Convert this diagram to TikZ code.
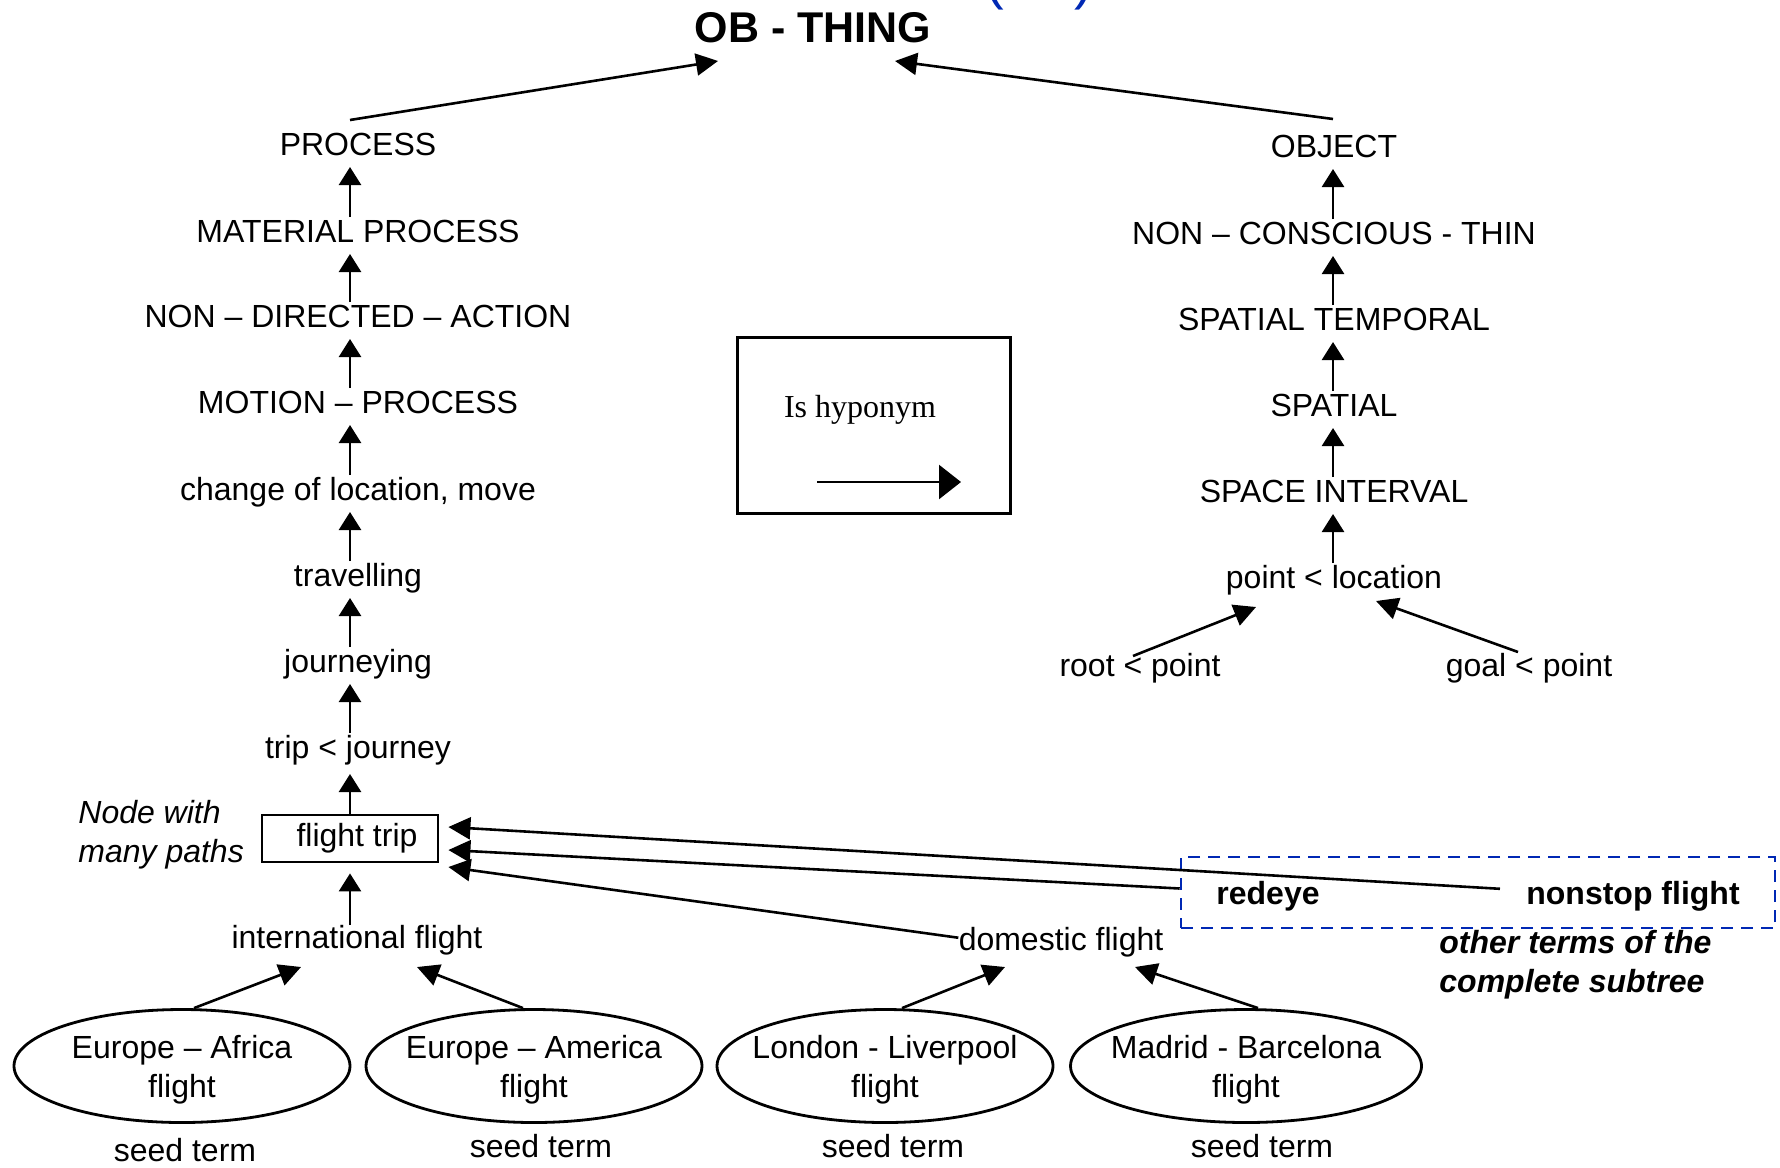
\documentclass[tikz,border=0pt]{standalone}
\usepackage{fontspec}
\setmainfont{Liberation Sans}
\newfontfamily\serifface{Liberation Serif}
\usetikzlibrary{arrows.meta,calc,shapes.geometric}
\definecolor{markblue}{RGB}{0,40,180}
\newcommand{\seedstrut}{\rule{0pt}{15.7pt}}
\begin{document}
\begin{tikzpicture}[x=0.5pt,y=-0.5pt,
  lbl/.style={inner sep=0pt, anchor=base, font=\fontsize{16}{19.5}\selectfont},
  hyp/.style={line width=1.3pt, -{Triangle[length=9pt,width=11pt]}},
  bighyp/.style={line width=1.3pt, -{Triangle[length=11pt,width=11pt]}},
  seed/.style={ellipse, draw, line width=1.4pt, inner xsep=-30pt, inner ysep=0pt,
    minimum width=168pt, minimum height=56.5pt, align=center,
    font=\fontsize{16}{19.5}\selectfont},
]
\useasboundingbox (0,0) rectangle (1780,1167);

% columns of the two hierarchies
\coordinate (colL) at (350,0);
\coordinate (colR) at (1333,0);

% root of the ontology
\node[inner sep=0pt, anchor=base, font=\fontsize{21.5}{26}\selectfont\bfseries] (ob) at (813,42) {OB - THING};
\node[inner sep=0pt, anchor=base west, text=markblue, font=\fontsize{28}{30}\selectfont] (tag) at (985,-2) {(\hspace{35pt})};

% process branch
\node[lbl] (process)  at (358,155) {PROCESS};
\node[lbl] (material) at (358,242) {MATERIAL PROCESS};
\node[lbl] (nondir)   at (358,327) {NON – DIRECTED – ACTION};
\node[lbl] (motion)   at (358,413) {MOTION – PROCESS};
\node[lbl] (change)   at (358,500) {change of location, move};
\node[lbl] (travel)   at (358,586) {travelling};
\node[lbl] (journey)  at (358,672) {journeying};
\node[lbl] (trip)     at (358,758) {trip < journey};

% object branch
\node[lbl] (object)   at (1334,157) {OBJECT};
\node[lbl] (noncons)  at (1334,244) {NON – CONSCIOUS - THIN};
\node[lbl] (spattemp) at (1334,330) {SPATIAL TEMPORAL};
\node[lbl] (spatial)  at (1334,416) {SPATIAL};
\node[lbl] (spaceint) at (1334,502) {SPACE INTERVAL};
\node[lbl] (ploc)     at (1334,588) {point < location};
\node[lbl] (root)     at (1140,676) {root < point};
\node[lbl] (goal)     at (1529,676) {goal < point};

% legend
\node[draw, line width=1.5pt, minimum width=136.5pt, minimum height=88pt, inner sep=0pt] (legend) at (873.5,425) {};
\node[inner sep=0pt, anchor=base, font=\serifface\fontsize{16}{19}\selectfont] (legtext) at (860,417) {Is hyponym};
\coordinate (legA) at (817,482);
\coordinate (legB) at (961,482);
\draw[line width=1.2pt, -{Triangle[length=11pt,width=17pt]}] (legA) -- (legB);

% node with many paths
\node[draw, line width=1.4pt, minimum width=88pt, minimum height=23.5pt, inner sep=0pt,
      font=\fontsize{16}{19.5}\selectfont] (ft) at (350,838.5) {\hspace*{7pt}flight trip};
\node[lbl, anchor=base west, align=left, font=\itshape\fontsize{16}{19.5}\selectfont] (manynote) at (78,862) {Node with\\many paths};

\node[lbl] (intl) at (357,948) {international flight};
\node[lbl] (dom)  at (1061,950) {domestic flight};

% other terms of the subtree
\node[draw=markblue, dash pattern=on 6pt off 4pt, line width=1.3pt, minimum width=297pt,
      minimum height=35.5pt, inner sep=0pt] (others) at (1478,892.5) {};
\node[lbl, font=\bfseries\fontsize{16}{19.5}\selectfont] (redeye)  at (1268,904) {redeye};
\node[lbl, font=\bfseries\fontsize{16}{19.5}\selectfont] (nonstop) at (1633,904) {nonstop flight};
\node[lbl, anchor=base west, align=left, font=\bfseries\itshape\fontsize{16}{19.5}\selectfont] (subnote) at (1439,992) {other terms of the\\complete subtree};

% seed terms
\node[seed] (e1) at (182,1066) {\seedstrut Europe – Africa\\flight};
\node[seed] (e2) at (534,1066) {\seedstrut Europe – America\\flight};
\node[seed] (e3) at (885,1066) {\seedstrut London - Liverpool\\flight};
\node[seed, minimum width=175.5pt] (e4) at (1246,1066) {\seedstrut Madrid - Barcelona\\flight};
\node[lbl] (s1) at (185,1161) {seed term};
\node[lbl] (s2) at (541,1157) {seed term};
\node[lbl] (s3) at (893,1157) {seed term};
\node[lbl] (s4) at (1262,1157) {seed term};

% hyponym links
\draw[bighyp] ($(process.base -| colL)+(0,-35)$) -- ($(ob.base)+(-95,19)$);
\draw[bighyp] ($(object.base)+(-1,-38)$) -- ($(ob.base)+(82,19)$);

\foreach \lo/\up in {material/process, nondir/material, motion/nondir, change/motion,
                     travel/change, journey/travel, trip/journey}
  \draw[hyp] ($(\lo.base -| colL)+(0,-25)$) -- ($(\up.base -| colL)+(0,12)$);
\foreach \lo/\up in {noncons/object, spattemp/noncons, spatial/spattemp,
                     spaceint/spatial, ploc/spaceint}
  \draw[hyp] ($(\lo.base -| colR)+(0,-25)$) -- ($(\up.base -| colR)+(0,12)$);

\draw[bighyp] ($(root.base)+(-7,-20)$) -- ($(ploc.base)+(-78,19)$);
\draw[bighyp] ($(goal.base)+(-11,-24)$) -- ($(ploc.base)+(42,13)$);

\draw[hyp] (ft.north) -- ($(trip.base -| colL)+(0,16)$);
\draw[hyp] ($(intl.base -| colL)+(0,-23)$) -- ($(ft.south)+(0,10)$);

\draw[bighyp] ($(nonstop.west)+(-26,-7)$) -- ($(ft.east)+(9,-11.5)$);
\draw[bighyp] ($(others.west)+(0,-4)$) -- ($(ft.east)+(9,11.5)$);
\draw[bighyp] ($(dom.west)+(0,-4)$) -- ($(ft.east)+(9,28.5)$);

\draw[bighyp] ($(e1.north)+(12,0)$) -- ($(intl.base)+(-56,19)$);
\draw[bighyp] ($(e2.north)+(-11,0)$) -- ($(intl.base)+(60,19)$);
\draw[bighyp] ($(e3.north)+(17,0)$) -- ($(dom.base)+(-56,17)$);
\draw[bighyp] ($(e4.north)+(12,0)$) -- ($(dom.base)+(74,17)$);
\end{tikzpicture}
\end{document}
